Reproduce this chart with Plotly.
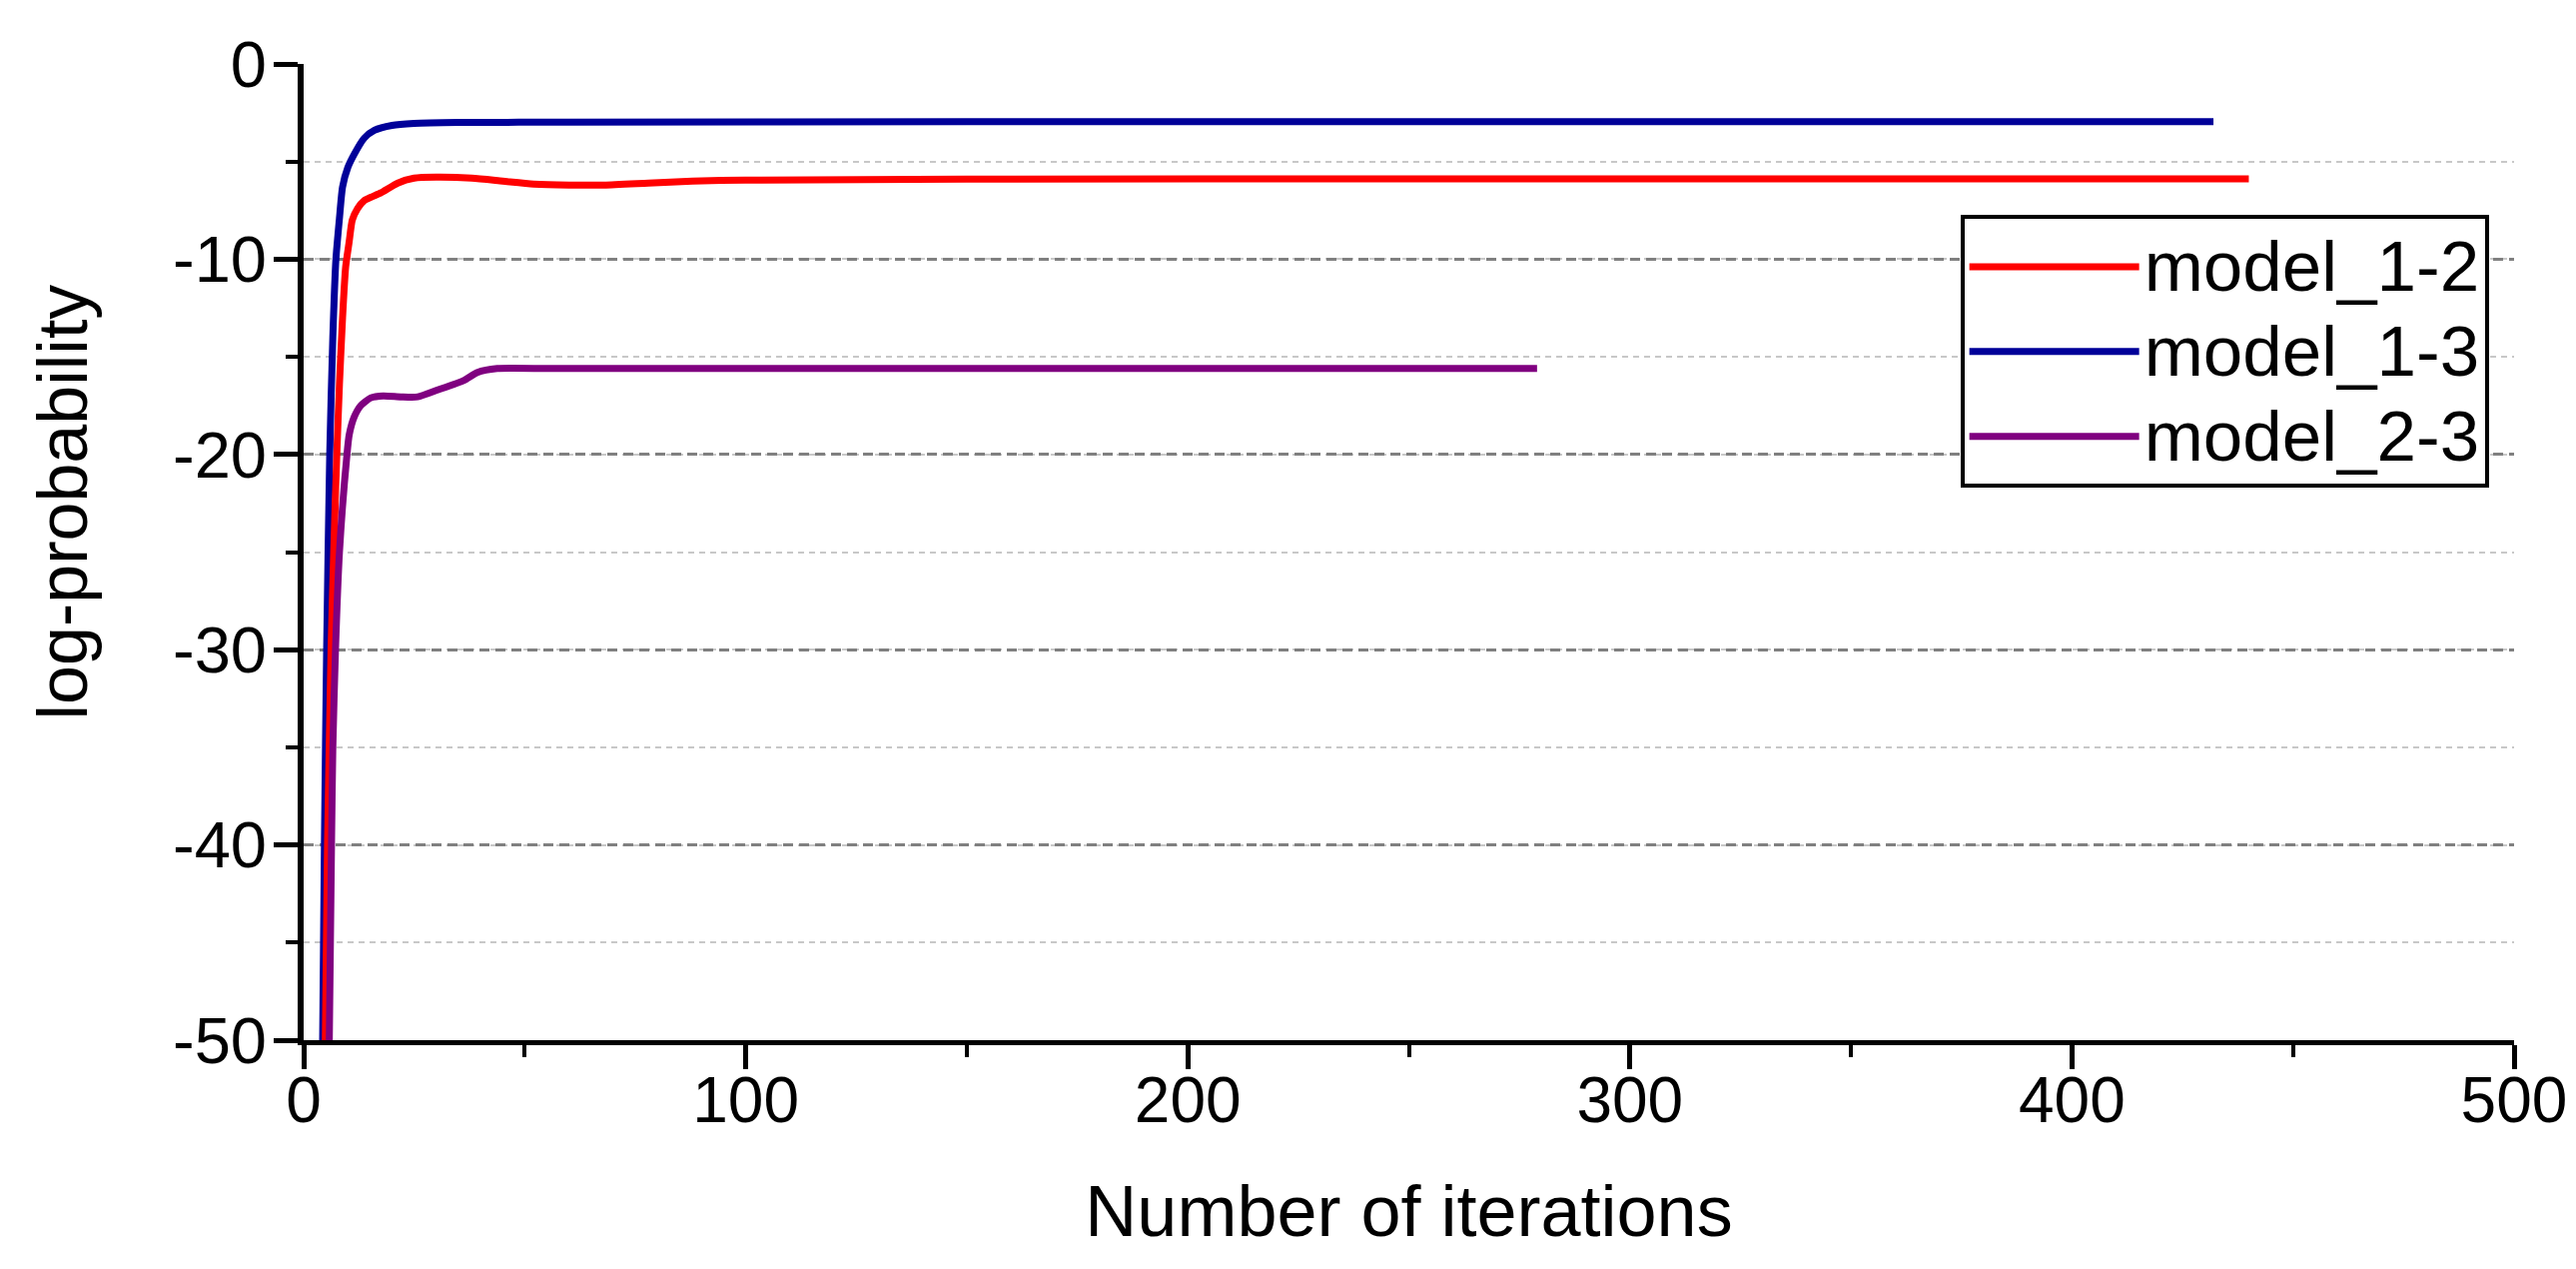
import plotly.graph_objects as go

# ---- data ----
x_model_1_3 = [4.3, 4.7, 5.2, 5.9, 6.6, 7.3, 8.1, 8.8, 10.0, 11.5, 13.7, 16.0, 20.0, 25.0, 35.0, 60.0, 150.0, 300.0, 432.0]
y_model_1_3 = [-50.0, -40.0, -30.0, -20.0, -14.0, -10.0, -7.9, -6.3, -5.3, -4.6, -3.8, -3.4, -3.15, -3.05, -3.0, -2.98, -2.96, -2.95, -2.95]

x_model_1_2 = [4.9, 5.4, 6.2, 6.8, 7.5, 8.1, 8.8, 9.5, 10.3, 11.0, 12.2, 13.7, 15.5, 17.5, 21.3, 25.0, 30.0, 38.0, 45.0, 52.0, 60.0, 68.0, 78.0, 88.0, 100.0, 150.0, 250.0, 440.0]
y_model_1_2 = [-50.0, -40.0, -30.0, -25.0, -20.0, -16.4, -13.0, -10.4, -9.1, -8.0, -7.4, -7.0, -6.8, -6.6, -6.1, -5.85, -5.8, -5.85, -6.0, -6.15, -6.2, -6.2, -6.1, -6.0, -5.95, -5.9, -5.88, -5.88]

x_model_2_3 = [5.8, 6.3, 6.6, 7.2, 8.1, 9.8, 10.3, 11.4, 12.9, 15.2, 18.0, 22.0, 25.8, 30.3, 36.3, 39.3, 43.8, 57.0, 279.0]
y_model_2_3 = [-50.0, -40.0, -35.0, -30.0, -25.0, -20.0, -19.0, -18.1, -17.5, -17.1, -17.0, -17.05, -17.05, -16.7, -16.2, -15.8, -15.6, -15.6, -15.6]

x_ticks = [0, 100, 200, 300, 400, 500]
y_ticks = [0, -10, -20, -30, -40, -50]

FONT = "Liberation Sans, Arial, sans-serif"


def legend_label(s):
    return '<span style="font-size:71px">' + s + '</span>'


fig = go.Figure()
fig.add_trace(go.Scatter(x=x_model_1_3, y=y_model_1_3, mode="lines", name=legend_label("model_1-3"),
                         line=dict(color="#000099", width=7, shape="spline", smoothing=0.6),
                         legendrank=2))
fig.add_trace(go.Scatter(x=x_model_1_2, y=y_model_1_2, mode="lines", name=legend_label("model_1-2"),
                         line=dict(color="#FF0000", width=7, shape="spline", smoothing=0.6),
                         legendrank=1))
fig.add_trace(go.Scatter(x=x_model_2_3, y=y_model_2_3, mode="lines", name=legend_label("model_2-3"),
                         line=dict(color="#800080", width=7, shape="spline", smoothing=0.6),
                         legendrank=3))

fig.update_layout(
    width=2579, height=1270,
    margin=dict(l=296, r=70, t=56, b=237),
    plot_bgcolor="white", paper_bgcolor="white",
    font=dict(family=FONT, size=64, color="black"),
    showlegend=True,
    legend=dict(
        x=0.7495, y=0.845, xanchor="left", yanchor="top",
        bordercolor="black", borderwidth=4, bgcolor="white",
        font=dict(family=FONT, size=63, color="black"),
        itemwidth=170, tracegroupgap=0,
    ),
    annotations=[dict(
        text="log-probability", textangle=-90,
        xref="paper", yref="paper", x=-0.109, y=0.551,
        xanchor="center", yanchor="middle", showarrow=False,
        font=dict(family=FONT, size=70, color="black"),
    )],
)

fig.update_xaxes(
    range=[0, 500], tickvals=x_ticks, ticktext=[str(v) for v in x_ticks],
    showline=True, linecolor="black", linewidth=5, mirror=False,
    ticks="outside", ticklen=24, tickwidth=5, tickcolor="black",
    showgrid=False, zeroline=False,
    minor=dict(dtick=50, tick0=0, ticks="outside", ticklen=12, tickwidth=4, tickcolor="black", showgrid=False),
    tickfont=dict(family=FONT, size=64, color="black"),
    ticklabelstandoff=-24,
    title=dict(text="Number of iterations", font=dict(family=FONT, size=72, color="black"), standoff=52),
)

fig.update_yaxes(
    range=[-50, 0], tickvals=y_ticks, ticktext=[str(v) for v in y_ticks],
    showline=True, linecolor="black", linewidth=6, mirror=False,
    ticks="outside", ticklen=24, tickwidth=5, tickcolor="black",
    showgrid=True, gridcolor="#808080", gridwidth=2.5, griddash="10px,6px",
    zeroline=False,
    minor=dict(dtick=5, tick0=0, ticks="outside", ticklen=12, tickwidth=4, tickcolor="black",
               showgrid=True, gridcolor="#C8C8C8", gridwidth=1.5, griddash="6px,5px"),
    tickfont=dict(family=FONT, size=65, color="black"),
    ticklabelstandoff=-6,
)

fig.write_html("out.html")
